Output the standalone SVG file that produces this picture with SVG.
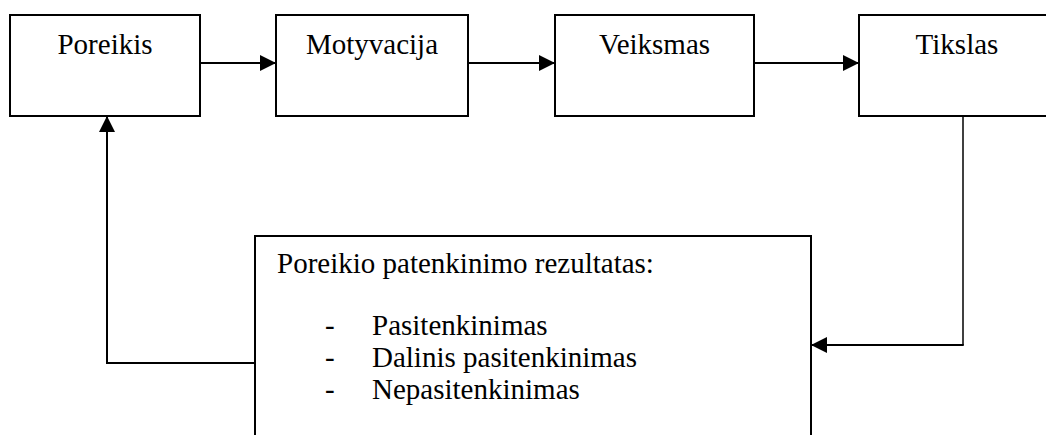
<svg xmlns="http://www.w3.org/2000/svg" width="1046" height="435" viewBox="0 0 1046 435">
<style>
.box{fill:#fff;stroke:#000;stroke-width:2}
.t{font-family:"Liberation Serif","Times New Roman",serif;font-size:29px;fill:#000}
.c{text-anchor:middle}
.ln{fill:none;stroke:#000;stroke-width:2}
</style>
<defs>
<marker id="ah" markerUnits="userSpaceOnUse" markerWidth="17" markerHeight="16" refX="16" refY="8" orient="auto">
<path d="M0,0 L16,8 L0,16 Z" fill="#000"/>
</marker>
</defs>
<rect width="1046" height="435" fill="#fff"/>
<g id="connectors">
<line class="ln" x1="200" y1="63" x2="276" y2="63" marker-end="url(#ah)"/>
<line class="ln" x1="468" y1="63" x2="555" y2="63" marker-end="url(#ah)"/>
<line class="ln" x1="754" y1="63" x2="859" y2="63" marker-end="url(#ah)"/>
<path class="ln" d="M963,116 L963,345" style="stroke-width:1.5"/>
<path class="ln" d="M963.75,345 L811,345" marker-end="url(#ah)"/>
<path class="ln" d="M255,363 L107,363 L107,116" marker-end="url(#ah)"/>
</g>
<g id="poreikis">
<rect class="box" x="10" y="15" width="190" height="101"/>
<text class="t c" x="105" y="54">Poreikis</text>
</g>
<g id="motyvacija">
<rect class="box" x="276" y="15" width="192" height="101"/>
<text class="t c" x="372" y="54">Motyvacija</text>
</g>
<g id="veiksmas">
<rect class="box" x="555" y="15" width="199" height="101"/>
<text class="t c" x="654.5" y="54">Veiksmas</text>
</g>
<g id="tikslas">
<rect class="box" x="859" y="15" width="200" height="101"/>
<text class="t c" x="957" y="54">Tikslas</text>
</g>
<g id="rezultatas">
<rect class="box" x="255" y="236" width="556" height="220"/>
<text class="t" x="277" y="273">Poreikio patenkinimo rezultatas:</text>
<text class="t" x="325" y="335">-</text>
<text class="t" x="372" y="335">Pasitenkinimas</text>
<text class="t" x="325" y="367">-</text>
<text class="t" x="372" y="367">Dalinis pasitenkinimas</text>
<text class="t" x="325" y="399">-</text>
<text class="t" x="372" y="399">Nepasitenkinimas</text>
</g>
</svg>
